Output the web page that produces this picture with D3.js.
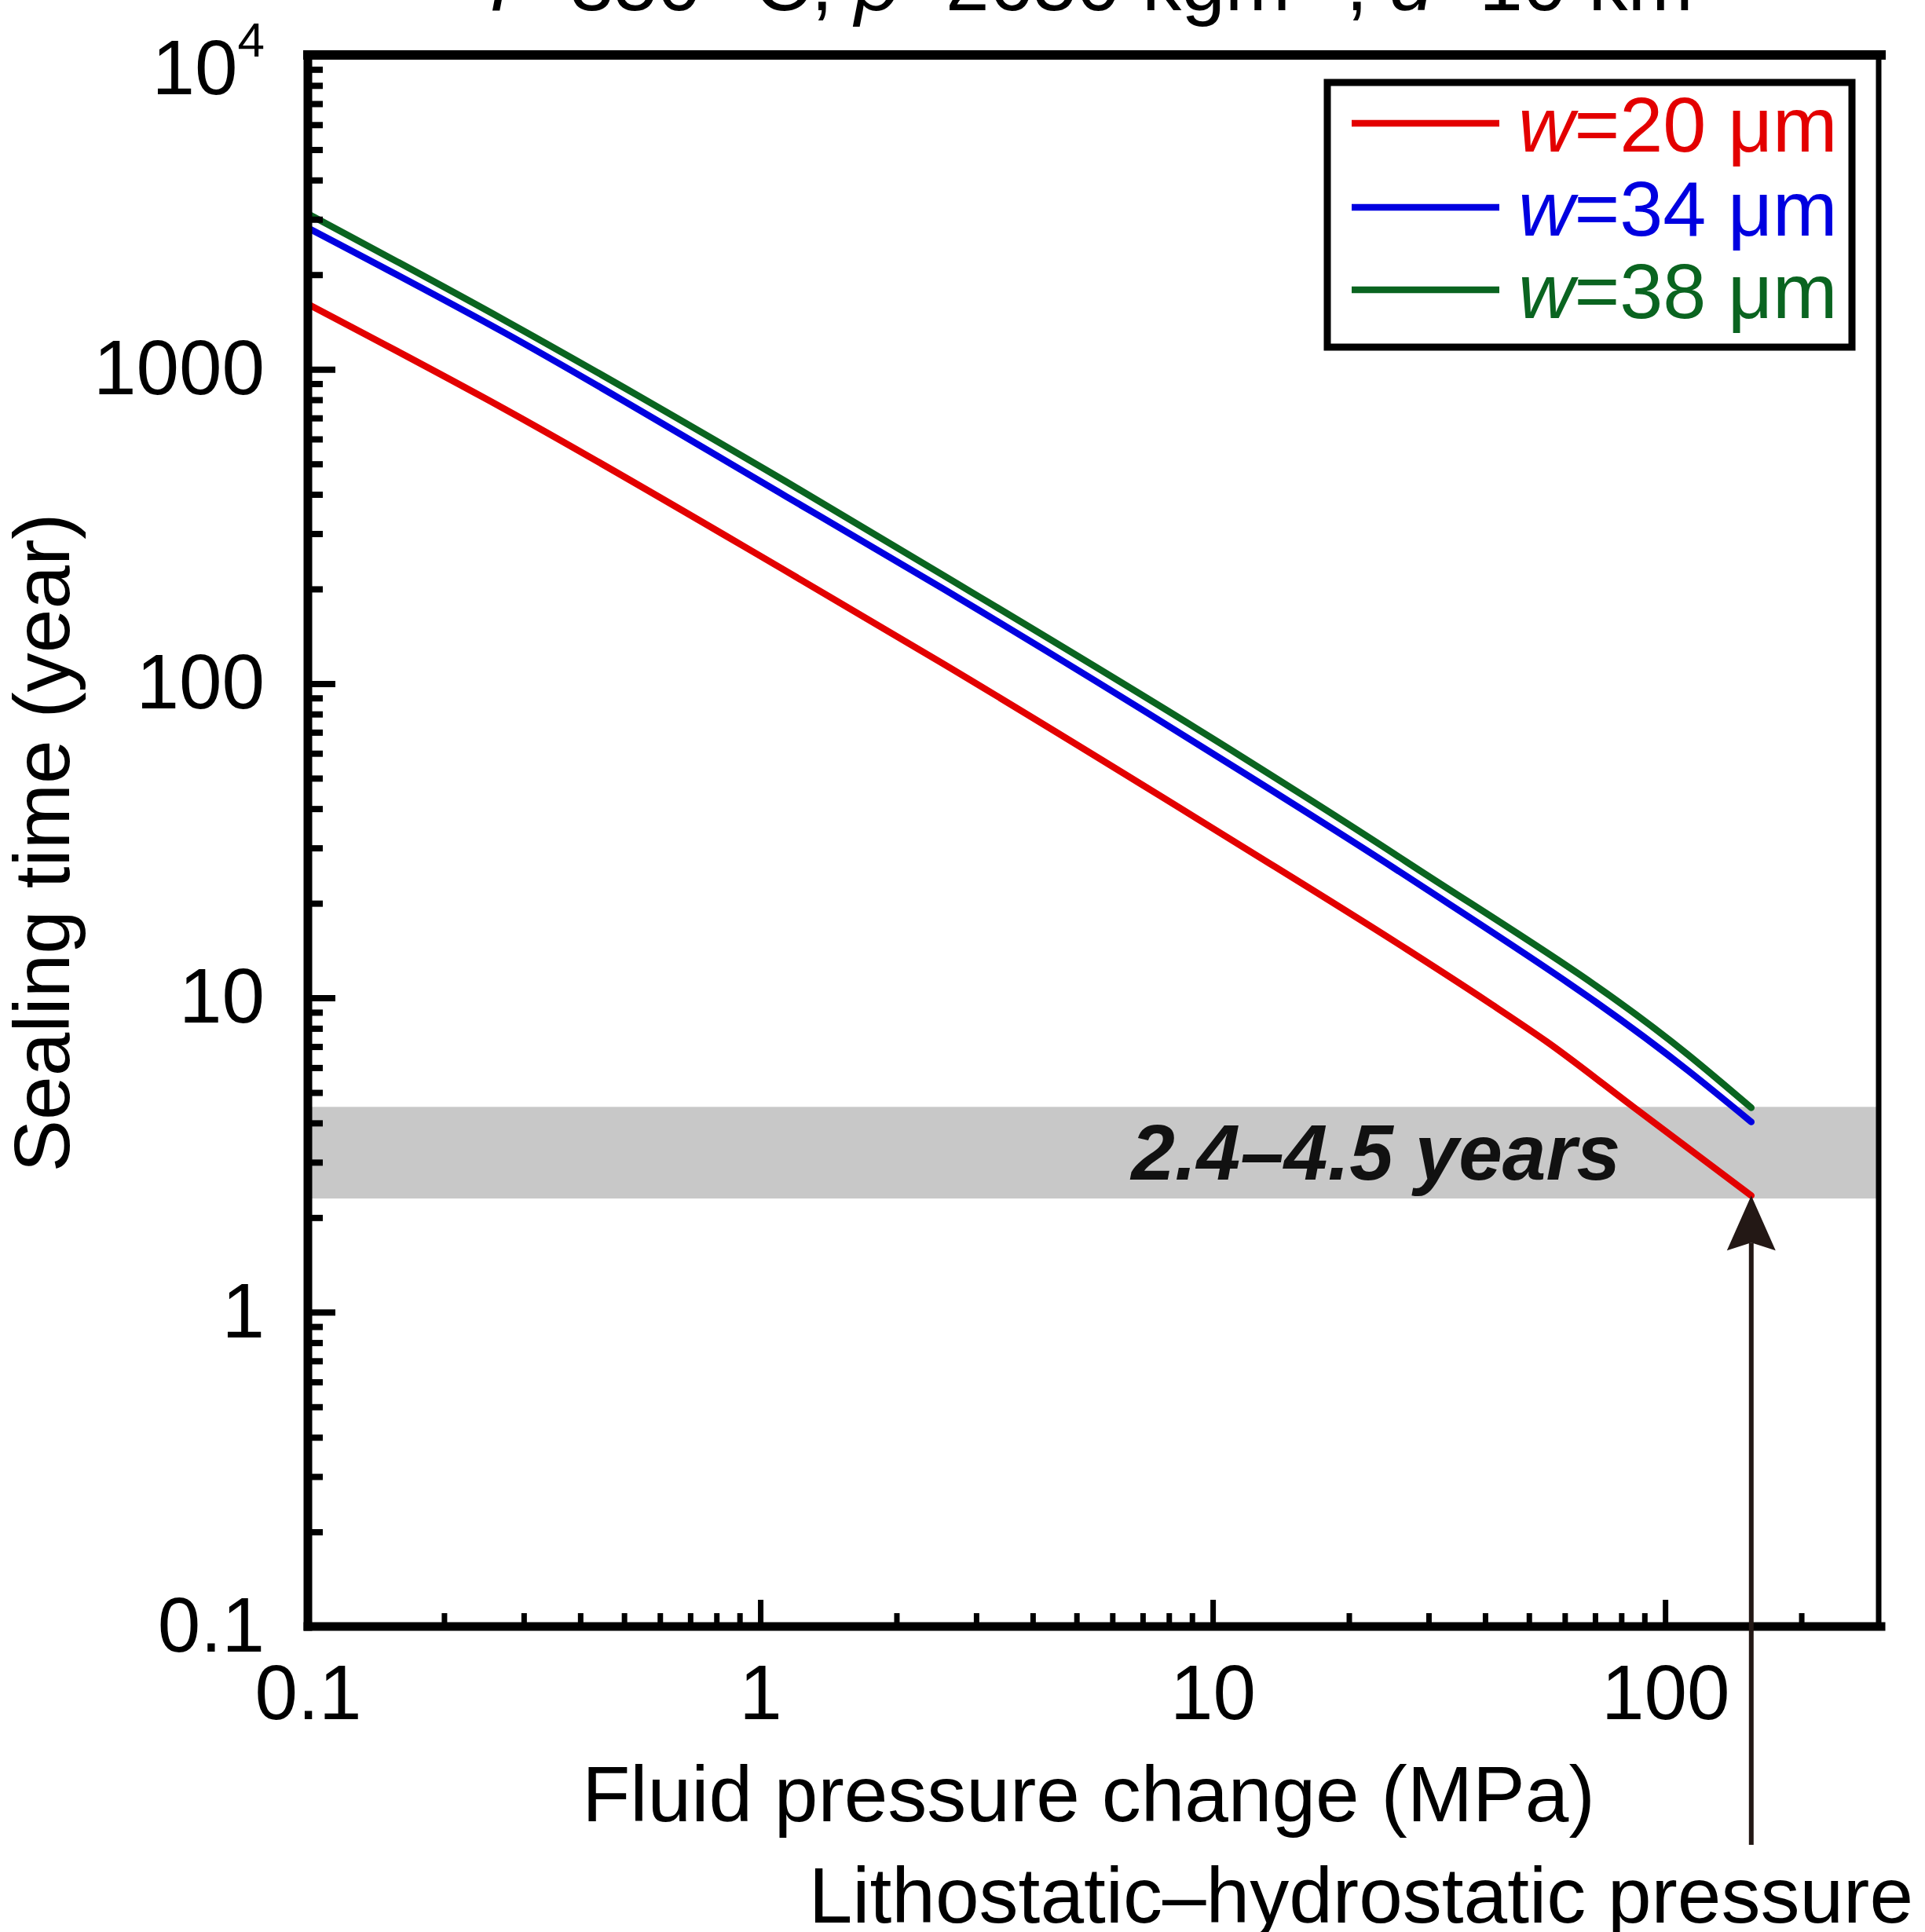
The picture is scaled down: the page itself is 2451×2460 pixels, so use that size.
<!DOCTYPE html>
<html>
<head>
<meta charset="utf-8">
<script src="https://cdn.jsdelivr.net/npm/d3@7"></script>
<style>
  html, body { margin: 0; padding: 0; background: #fff; }
  svg { display: block; }
  text { font-family: "Liberation Sans", Arial, Helvetica, sans-serif; }
</style>
</head>
<body>
<svg id="chart" width="2451" height="2460"></svg>
<script>
// ---------------- data ----------------
const seriesNames = ["w=20 μm", "w=34 μm", "w=38 μm"];
const seriesLabelsNum = ["20", "34", "38"];
const seriesColors = ["#e30000", "#0000e0", "#0a6420"];

const pressureRed   = [0.1, 0.271, 1.14, 2.54, 11.58, 26.8, 41.5, 54.7, 85, 155];
const timeRed       = [1613, 750, 228, 115.5, 30.4, 14.3, 9.5, 7.26, 4.5, 2.35];

const pressureBlue  = [0.1, 0.271, 1.14, 2.54, 11.58, 26.8, 112.7, 155];
const timeBlue      = [2818, 1311, 394, 200, 52.5, 24.4, 5.85, 4.03];

const pressureGreen = [0.1, 0.271, 1.14, 2.54, 11.58, 26.8, 112.7, 155];
const timeGreen     = [3126, 1437, 439, 221, 58.6, 27.1, 6.57, 4.47];

const xMajorTicks = [0.1, 1, 10, 100];
const xMajorLabels = ["0.1", "1", "10", "100"];
const yMajorTicks = [0.1, 1, 10, 100, 1000, 10000];
const yMajorLabels = ["0.1", "1", "10", "100", "1000", "10^4"];

const bandRange = [2.3, 4.5];
const bandLabel = "2.4–4.5 years";
const arrowPressure = 155;
const arrowLabel = "Lithostatic–hydrostatic pressure";
const xTitle = "Fluid pressure change (MPa)";
const yTitle = "Sealing time (year)";

// ---------------- layout ----------------
const svg = d3.select("#chart");
const L = 392, R = 2395, T = 70, B = 2071;
const FS = 98;

const x = d3.scaleLog().domain([0.1, 300]).range([L, R]);
const y = d3.scaleLog().domain([0.1, 10000]).range([B, T]);

const xMinor = [];
[0.1, 1, 10, 100].forEach(d => { for (let k = 2; k <= 9; k++) { const v = +(k * d).toPrecision(3); if (v <= 200) xMinor.push(v); } });
const yMinor = [];
[0.1, 1, 10, 100, 1000].forEach(d => { for (let k = 2; k <= 9; k++) yMinor.push(+(k * d).toPrecision(3)); });

// grey band
svg.append("rect")
  .attr("x", L).attr("width", R - L)
  .attr("y", y(bandRange[1])).attr("height", y(bandRange[0]) - y(bandRange[1]))
  .attr("fill", "#c8c8c8");

svg.append("text")
  .attr("x", 2063).attr("y", 1502)
  .attr("text-anchor", "end")
  .attr("font-size", 100).attr("font-weight", "bold").attr("font-style", "italic")
  .attr("fill", "#111")
  .text(bandLabel);

// curves
const series = [
  { px: pressureRed, t: timeRed, c: seriesColors[0] },
  { px: pressureBlue, t: timeBlue, c: seriesColors[1] },
  { px: pressureGreen, t: timeGreen, c: seriesColors[2] }
];
const line = d3.line().x(d => x(d[0])).y(d => y(d[1])).curve(d3.curveMonotoneX);
series.forEach(s => {
  svg.append("path")
    .datum(s.px.map((p, i) => [p, s.t[i]]))
    .attr("d", line)
    .attr("fill", "none")
    .attr("stroke", s.c)
    .attr("stroke-width", 8.5)
    .attr("stroke-linecap", "round")
    .attr("stroke-linejoin", "round");
});

// axes (ticks inward)
function styleAxis(g, w) {
  g.select(".domain").remove();
  g.selectAll(".tick line").attr("stroke", "#000").attr("stroke-width", w);
}
// y minor
svg.append("g").attr("transform", `translate(${L},0)`)
  .call(d3.axisLeft(y).tickValues(yMinor).tickSizeInner(-19).tickSizeOuter(0).tickFormat(""))
  .call(g => styleAxis(g, 8));
// y major
const yAx = svg.append("g").attr("transform", `translate(${L},0)`)
  .call(d3.axisLeft(y).tickValues(yMajorTicks).tickSizeInner(-35).tickSizeOuter(0).tickPadding(55)
    .tickFormat((d, i) => yMajorLabels[i]))
  .call(g => styleAxis(g, 8));
yAx.selectAll(".tick text")
  .attr("font-size", FS).attr("fill", "#000")
  .attr("font-family", "'Liberation Sans', Arial, sans-serif")
  .each(function(d, i) {
    const lab = yMajorLabels[i];
    if (lab.includes("^")) {
      const [base, sup] = lab.split("^");
      const t = d3.select(this).text(null).attr("dy", "0.5em");
      t.append("tspan").text(base);
      t.append("tspan").attr("font-size", 62).attr("dy", -48).text(sup);
    }
  });

// x minor
svg.append("g").attr("transform", `translate(0,${B})`)
  .call(d3.axisBottom(x).tickValues(xMinor).tickSizeInner(-17).tickSizeOuter(0).tickFormat(""))
  .call(g => styleAxis(g, 7));
// x major
const xAx = svg.append("g").attr("transform", `translate(0,${B})`)
  .call(d3.axisBottom(x).tickValues(xMajorTicks).tickSizeInner(-34).tickSizeOuter(0).tickPadding(48)
    .tickFormat((d, i) => xMajorLabels[i]))
  .call(g => styleAxis(g, 7));
xAx.selectAll(".tick text").attr("font-size", FS).attr("fill", "#000")
  .attr("font-family", "'Liberation Sans', Arial, sans-serif");

// frame
const frame = svg.append("g").attr("stroke", "#000").attr("stroke-linecap", "square");
frame.append("line").attr("x1", L).attr("x2", R).attr("y1", T).attr("y2", T).attr("stroke-width", 12);
frame.append("line").attr("x1", L).attr("x2", R).attr("y1", B).attr("y2", B).attr("stroke-width", 11);
frame.append("line").attr("x1", L).attr("x2", L).attr("y1", T).attr("y2", B).attr("stroke-width", 11);
frame.append("line").attr("x1", R - 3).attr("x2", R - 3).attr("y1", T).attr("y2", B).attr("stroke-width", 7);

// axis titles
svg.append("text")
  .attr("x", 1386).attr("y", 2319).attr("text-anchor", "middle")
  .attr("font-size", 100).attr("fill", "#000").text(xTitle);
svg.append("text")
  .attr("transform", "translate(88,1073) rotate(-90)")
  .attr("text-anchor", "middle")
  .attr("font-size", 100).attr("fill", "#000").text(yTitle);

// title (cut off at the top of the picture, as in the reference)
const title = svg.append("text")
  .attr("x", 1381).attr("y", 13).attr("text-anchor", "middle")
  .attr("font-size", 100).attr("fill", "#000");
title.append("tspan").attr("font-style", "italic").text("T");
title.append("tspan").text("=350 °C, ");
title.append("tspan").attr("font-style", "italic").text("ρ");
title.append("tspan").text("=2650 kgm");
title.append("tspan").attr("font-size", 62).attr("dy", -40).text("−3");
title.append("tspan").attr("dy", 40).text(", ");
title.append("tspan").attr("font-style", "italic").text("d");
title.append("tspan").text("=10 km");

// legend
const lg = svg.append("g");
lg.append("rect").attr("x", 1690).attr("y", 105).attr("width", 668).attr("height", 337)
  .attr("fill", "#fff").attr("stroke", "#000").attr("stroke-width", 9);
const legY = [157, 264, 369];
seriesNames.forEach((nm, i) => {
  lg.append("line").attr("x1", 1721).attr("x2", 1909).attr("y1", legY[i]).attr("y2", legY[i])
    .attr("stroke", seriesColors[i]).attr("stroke-width", 8.5);
  const t = lg.append("text").attr("x", 1933).attr("y", legY[i]).attr("dy", "0.36em")
    .attr("font-size", 99).attr("fill", seriesColors[i]);
  t.append("tspan").attr("font-style", "italic").text("w");
  t.append("tspan").text("=" + seriesLabelsNum[i] + " μm");
});

// arrow
const ax = x(arrowPressure);
const tipY = y(timeRed[timeRed.length - 1]);
svg.append("line").attr("x1", ax).attr("x2", ax).attr("y1", 2349).attr("y2", tipY + 60)
  .attr("stroke", "#231815").attr("stroke-width", 6);
svg.append("path")
  .attr("d", `M${ax},${tipY} L${ax + 31},${tipY + 70} L${ax},${tipY + 60} L${ax - 31},${tipY + 70} Z`)
  .attr("fill", "#231815");
svg.append("text")
  .attr("x", 2436).attr("y", 2448).attr("text-anchor", "end")
  .attr("font-size", 100).attr("fill", "#000").text(arrowLabel);
</script>
</body>
</html>
